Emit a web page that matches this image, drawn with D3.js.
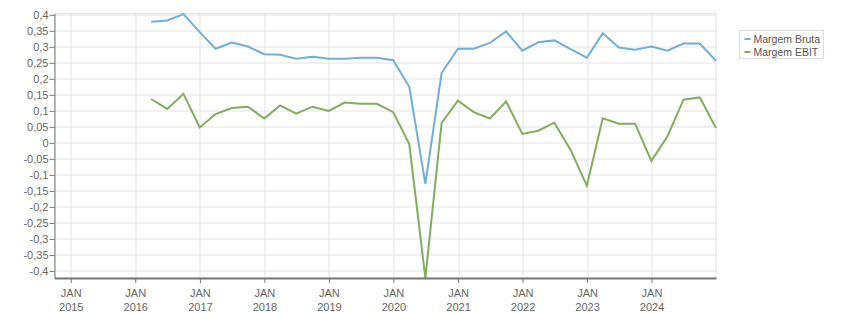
<!DOCTYPE html>
<html>
<head>
<meta charset="utf-8">
<script src="https://cdn.jsdelivr.net/npm/d3@7"></script>
<style>
  body { margin: 0; background: #fff; }
  svg { display: block; font-family: "Liberation Sans", Arial, sans-serif; }
  .tick text { fill: #666; font-size: 11px; }
</style>
</head>
<body>
<div id="chart"></div>
<script>
// quarterly data (quarter end dates)
const quarters = [
  "2016-03-31", "2016-06-30", "2016-09-30", "2016-12-31",
  "2017-03-31", "2017-06-30", "2017-09-30", "2017-12-31",
  "2018-03-31", "2018-06-30", "2018-09-30", "2018-12-31",
  "2019-03-31", "2019-06-30", "2019-09-30", "2019-12-31",
  "2020-03-31", "2020-06-30", "2020-09-30", "2020-12-31",
  "2021-03-31", "2021-06-30", "2021-09-30", "2021-12-31",
  "2022-03-31", "2022-06-30", "2022-09-30", "2022-12-31",
  "2023-03-31", "2023-06-30", "2023-09-30", "2023-12-31",
  "2024-03-31", "2024-06-30", "2024-09-30", "2024-12-31"
];

const margemBruta = [
  0.378, 0.382, 0.402, 0.346,
  0.294, 0.313, 0.301, 0.277,
  0.275, 0.263, 0.269, 0.263,
  0.263, 0.266, 0.266, 0.258,
  0.175, -0.128, 0.218, 0.294,
  0.294, 0.312, 0.348, 0.288,
  0.314, 0.320, 0.293, 0.266,
  0.342, 0.298, 0.291, 0.301,
  0.288, 0.310, 0.310, 0.256
];

const margemEbit = [
  0.137, 0.106, 0.153, 0.048,
  0.090, 0.109, 0.113, 0.076,
  0.117, 0.091, 0.113, 0.100,
  0.126, 0.122, 0.122, 0.096,
  -0.004, -0.422, 0.062, 0.132,
  0.096, 0.076, 0.129, 0.028,
  0.038, 0.063, -0.022, -0.134,
  0.077, 0.060, 0.060, -0.056,
  0.020, 0.135, 0.142, 0.046
];

const seriesNames = ["Margem Bruta", "Margem EBIT"];
const seriesColors = ["#72afd4", "#82ad5e"];
const yTicks = [-0.4, -0.35, -0.3, -0.25, -0.2, -0.15, -0.1, -0.05, 0, 0.05, 0.1, 0.15, 0.2, 0.25, 0.3, 0.35, 0.4];

const width = 851, height = 313;
const margin = { top: 13.5, right: 135, bottom: 35, left: 54.5 };
const innerW = width - margin.left - margin.right,
    innerH = height - margin.top - margin.bottom;

const parse = d3.timeParse("%Y-%m-%d");
const dates = quarters.map(parse);

const svg = d3.select("#chart").append("svg")
    .attr("width", width)
    .attr("height", height);

const g = svg.append("g")
    .attr("transform", `translate(${margin.left},${margin.top})`);

const x = d3.scaleTime()
    .domain([new Date(2014, 9, 1), dates[dates.length - 1]])
    .range([0, innerW]);
const y = d3.scaleLinear()
    .domain([-0.422, 0.404])
    .range([innerH, 0]);

const fmt = v => String(+v.toFixed(2)).replace(".", ",");

// grid
g.append("g").selectAll("line.h")
    .data(yTicks)
    .enter().append("line")
    .attr("x1", 0).attr("x2", innerW)
    .attr("y1", d => Math.round(y(d)) + 0.5).attr("y2", d => Math.round(y(d)) + 0.5)
    .attr("stroke", "#e3e3e3");

const years = x.ticks(d3.timeYear.every(1));
g.append("g").selectAll("line.v")
    .data(years)
    .enter().append("line")
    .attr("x1", d => Math.round(x(d)) + 0.5).attr("x2", d => Math.round(x(d)) + 0.5)
    .attr("y1", 0).attr("y2", innerH)
    .attr("stroke", "#e3e3e3");

g.append("rect")
    .attr("x", 0).attr("y", 0)
    .attr("width", innerW).attr("height", innerH)
    .attr("fill", "none")
    .attr("stroke", "#e3e3e3");

// lines
const line = d3.line()
    .x((d, i) => x(dates[i]))
    .y(d => y(d));

[margemBruta, margemEbit].forEach((vals, k) => {
    g.append("path")
        .datum(vals)
        .attr("fill", "none")
        .attr("stroke", seriesColors[k])
        .attr("stroke-width", 2)
        .attr("d", line);
});

// axes
const yAxis = g.append("g")
    .call(d3.axisLeft(y).tickValues(yTicks).tickFormat(fmt).tickSize(5).tickSizeOuter(0));
yAxis.select(".domain").attr("stroke", "#777");
yAxis.selectAll(".tick line").attr("stroke", "#777");
yAxis.selectAll(".tick text").attr("x", -6);

const xAxis = g.append("g")
    .attr("transform", `translate(0,${innerH})`)
    .call(d3.axisBottom(x).tickValues(years).tickFormat("").tickSize(5).tickSizeOuter(0));
xAxis.select(".domain").attr("stroke", "#777").attr("stroke-width", 2);
xAxis.selectAll(".tick line").attr("stroke", "#777");
xAxis.selectAll(".tick").append("text")
    .attr("text-anchor", "middle")
    .attr("fill", "#666")
    .selectAll("tspan")
    .data(d => ["JAN", d3.timeFormat("%Y")(d)])
    .enter().append("tspan")
    .attr("x", 0)
    .attr("y", (d, i) => i === 0 ? 19 : 33)
    .text(d => d);

// legend
const legend = svg.append("g").attr("transform", "translate(739.5,30.5)");
legend.append("rect")
    .attr("width", 84).attr("height", 28)
    .attr("fill", "#fff")
    .attr("stroke", "#ddd");
const items = legend.selectAll("g.item")
    .data(seriesNames)
    .enter().append("g")
    .attr("transform", (d, i) => `translate(0,${8.5 + i * 13})`);
items.append("line")
    .attr("x1", 5).attr("x2", 11)
    .attr("stroke", (d, i) => seriesColors[i])
    .attr("stroke-width", 2);
items.append("text")
    .attr("x", 14).attr("y", 4)
    .attr("fill", "#555")
    .style("font-size", "10.5px")
    .text(d => d);
</script>
</body>
</html>
